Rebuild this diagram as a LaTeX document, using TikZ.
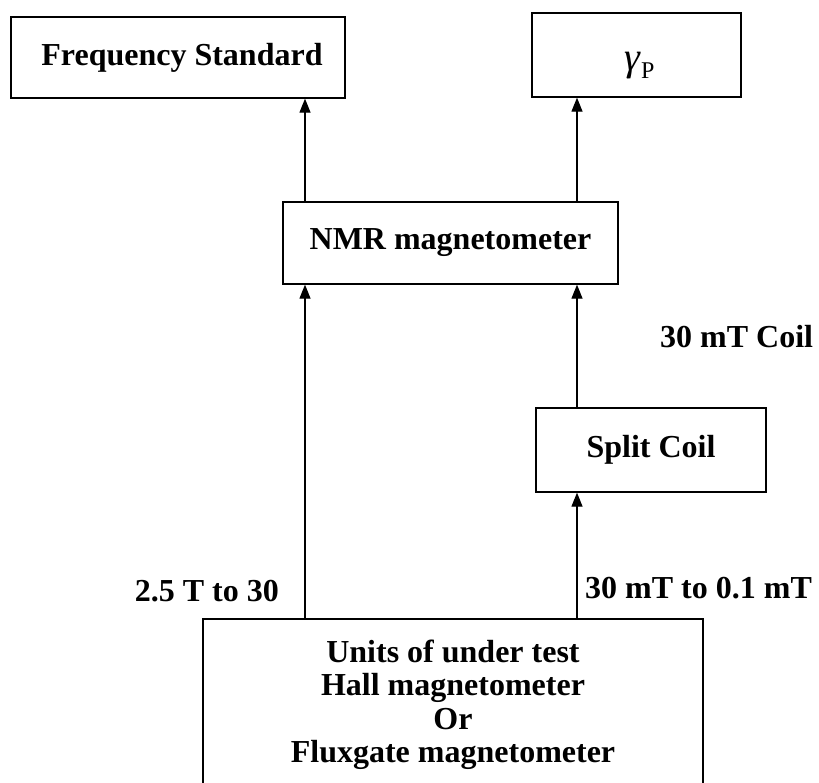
\documentclass[tikz,border=0pt]{standalone}
\usepackage{fontspec}
\setmainfont{Liberation Serif}
\usetikzlibrary{arrows.meta}
\tikzset{
  box/.style={draw=black, line width=1.3pt, rectangle, inner sep=0pt, align=center,
              font=\fontsize{32}{33}\selectfont\bfseries},
  lbl/.style={inner sep=0pt, font=\fontsize{32}{33}\selectfont\bfseries},
  arr/.style={draw=black, line width=1.2pt, -{Triangle[length=14pt,width=11pt]}}
}
\begin{document}
\begin{tikzpicture}[x=1pt,y=-1pt]
\useasboundingbox (0,0) rectangle (819,783);
\clip (0,0) rectangle (819,783);
\fill[white] (0,0) rectangle (819,783);
% arrow columns
\coordinate (cL) at (305,0);
\coordinate (cR) at (577,0);
% boxes
\node[box, minimum width=334pt, minimum height=81pt] (freq) at (178,57.5) {\hspace*{8pt}Frequency Standard};
\node[box, minimum width=209pt, minimum height=84pt] (gam) at (636.5,55)
  {\hspace*{6pt}\smash{\raisebox{-16pt}{\mdseries\fontsize{40}{40}\selectfont\itshape γ\kern1pt\raisebox{-8pt}{\upshape\fontsize{24}{24}\selectfont P}}}};
\node[box, minimum width=335pt, minimum height=82pt] (nmr) at (450.5,243) {NMR magnetometer};
\node[box, minimum width=230pt, minimum height=84pt] (split) at (651,450) {Split Coil};
\node[box, minimum width=500pt, minimum height=172pt, font=\fontsize{32}{33.5}\selectfont\bfseries] (units) at (453,705)
  {Units of under test\\Hall magnetometer\\Or\\Fluxgate magnetometer};
% labels
\node[lbl, anchor=west] (coil) at (660,337) {30 mT Coil};
\node[lbl, anchor=east] (lo) at (279,591) {2.5 T to 30};
\node[lbl, anchor=west] (hi) at (585,588) {30 mT to 0.1 mT};
% connectors
\draw[arr] (nmr.north -| cL) -- (freq.south -| cL);
\draw[arr] (nmr.north -| cR) -- (gam.south -| cR);
\draw[arr] (units.north -| cL) -- (nmr.south -| cL);
\draw[arr] (split.north -| cR) -- (nmr.south -| cR);
\draw[arr] (units.north -| cR) -- (split.south -| cR);
\end{tikzpicture}
\end{document}
